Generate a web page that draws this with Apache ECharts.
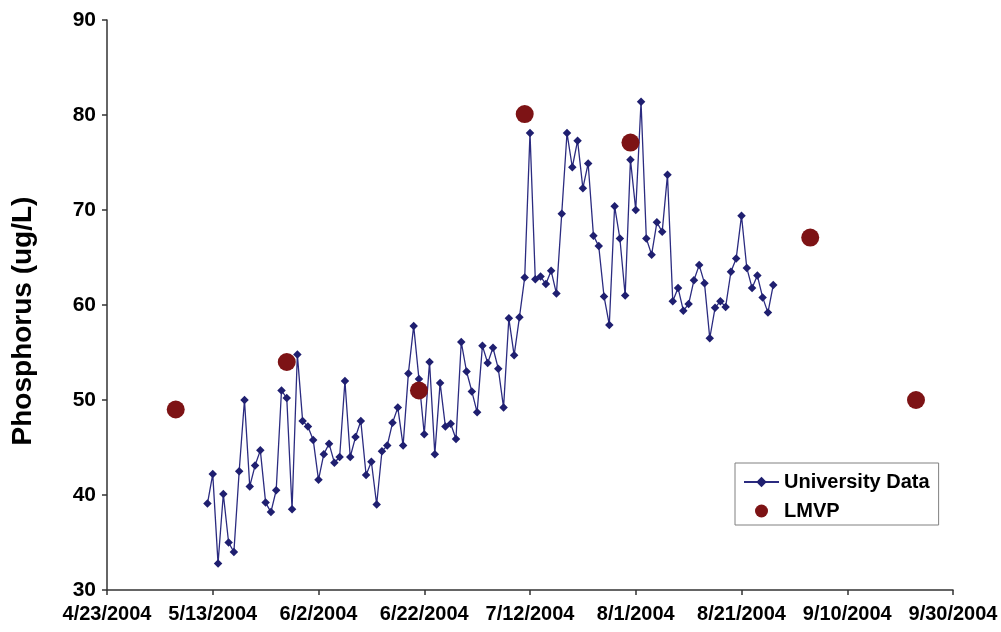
<!DOCTYPE html>
<html>
<head>
<meta charset="utf-8">
<script src="https://cdn.jsdelivr.net/npm/echarts@6/dist/echarts.min.js"></script>
<style>
html,body{margin:0;padding:0;background:#fff;}
#chart{width:1001px;height:632px;}
</style>
</head>
<body>
<div id="chart"></div>
<script>
// ---- Data ----
var universityDates = [
  '5/12/2004','5/13/2004','5/14/2004','5/15/2004','5/16/2004','5/17/2004','5/18/2004','5/19/2004','5/20/2004','5/21/2004',
  '5/22/2004','5/23/2004','5/24/2004','5/25/2004','5/26/2004','5/27/2004','5/28/2004','5/29/2004','5/30/2004','5/31/2004',
  '6/1/2004','6/2/2004','6/3/2004','6/4/2004','6/5/2004','6/6/2004','6/7/2004','6/8/2004','6/9/2004','6/10/2004',
  '6/11/2004','6/12/2004','6/13/2004','6/14/2004','6/15/2004','6/16/2004','6/17/2004','6/18/2004','6/19/2004','6/20/2004',
  '6/21/2004','6/22/2004','6/23/2004','6/24/2004','6/25/2004','6/26/2004','6/27/2004','6/28/2004','6/29/2004','6/30/2004',
  '7/1/2004','7/2/2004','7/3/2004','7/4/2004','7/5/2004','7/6/2004','7/7/2004','7/8/2004','7/9/2004','7/10/2004',
  '7/11/2004','7/12/2004','7/13/2004','7/14/2004','7/15/2004','7/16/2004','7/17/2004','7/18/2004','7/19/2004','7/20/2004',
  '7/21/2004','7/22/2004','7/23/2004','7/24/2004','7/25/2004','7/26/2004','7/27/2004','7/28/2004','7/29/2004','7/30/2004',
  '7/31/2004','8/1/2004','8/2/2004','8/3/2004','8/4/2004','8/5/2004','8/6/2004','8/7/2004','8/8/2004','8/9/2004',
  '8/10/2004','8/11/2004','8/12/2004','8/13/2004','8/14/2004','8/15/2004','8/16/2004','8/17/2004','8/18/2004','8/19/2004',
  '8/20/2004','8/21/2004','8/22/2004','8/23/2004','8/24/2004','8/25/2004','8/26/2004','8/27/2004'
];
var universityValues = [
  39.1,42.2,32.8,40.1,35.0,34.0,42.5,50.0,40.9,43.1,
  44.7,39.2,38.2,40.5,51.0,50.2,38.5,54.8,47.8,47.2,
  45.8,41.6,44.3,45.4,43.4,44.0,52.0,44.0,46.1,47.8,
  42.1,43.5,39.0,44.6,45.2,47.6,49.2,45.2,52.8,57.8,
  52.2,46.4,54.0,44.3,51.8,47.2,47.5,45.9,56.1,53.0,
  50.9,48.7,55.7,53.9,55.5,53.3,49.2,58.6,54.7,58.7,
  62.9,78.1,62.7,63.0,62.2,63.6,61.2,69.6,78.1,74.5,
  77.3,72.3,74.9,67.3,66.2,60.9,57.9,70.4,67.0,61.0,
  75.3,70.0,81.4,67.0,65.3,68.7,67.7,73.7,60.4,61.8,
  59.4,60.1,62.6,64.2,62.3,56.5,59.7,60.4,59.8,63.5,
  64.9,69.4,63.9,61.8,63.1,60.8,59.2,62.1
];
var lmvpDates  = ['5/6/2004','5/27/2004','6/21/2004','7/11/2004','7/31/2004','9/3/2004','9/23/2004'];
var lmvpValues = [49.0, 54.0, 51.0, 80.1, 77.1, 67.1, 50.0];

var xMinDate = '4/23/2004';
var xMaxDate = '9/30/2004';
var xStepDays = 20;
var yMin = 30, yMax = 90, yStep = 10;

// ---- helpers: Excel-style day serials ----
var EPOCH = Date.UTC(1899, 11, 30);
function toSerial(s) {
  var p = s.split('/');
  return Math.round((Date.UTC(+p[2], +p[0] - 1, +p[1]) - EPOCH) / 86400000);
}
function fromSerial(n) {
  var d = new Date(EPOCH + n * 86400000);
  return (d.getUTCMonth() + 1) + '/' + d.getUTCDate() + '/' + d.getUTCFullYear();
}
function pairs(dates, vals) {
  return dates.map(function (d, i) { return [toSerial(d), vals[i]]; });
}

var FONT = '"Liberation Sans", Arial, sans-serif';
var chart = echarts.init(document.getElementById('chart'), null, {renderer: 'canvas'});
chart.setOption({
  animation: false,
  backgroundColor: '#ffffff',
  grid: {left: 107, right: 48, top: 20, bottom: 42, containLabel: false},
  xAxis: {
    type: 'value',
    min: toSerial(xMinDate),
    max: toSerial(xMaxDate),
    interval: xStepDays,
    splitLine: {show: false},
    axisLine: {show: true, onZero: false, lineStyle: {color: '#333', width: 1.5}},
    axisTick: {show: true, inside: false, length: 5, lineStyle: {color: '#333', width: 1.5}},
    axisLabel: {
      margin: 14,
      color: '#000',
      fontFamily: FONT,
      fontWeight: 'bold',
      fontSize: 20,
      formatter: function (v) { return fromSerial(v); }
    }
  },
  yAxis: {
    type: 'value',
    min: yMin, max: yMax, interval: yStep,
    splitLine: {show: false},
    axisLine: {show: true, onZero: false, lineStyle: {color: '#333', width: 1.5}},
    axisTick: {show: true, inside: false, length: 5, lineStyle: {color: '#333', width: 1.5}},
    axisLabel: {margin: 11, color: '#000', fontFamily: FONT, fontWeight: 'bold', fontSize: 21}
  },
  legend: {
    orient: 'vertical',
    left: 735, top: 463,
    padding: [9, 9, 4, 8],
    itemWidth: 35, itemHeight: 13, itemGap: 9,
    backgroundColor: '#fff',
    borderColor: '#808080', borderWidth: 1,
    textStyle: {fontFamily: FONT, fontWeight: 'bold', fontSize: 20, color: '#000'},
    data: ['University Data', 'LMVP']
  },
  graphic: [{
    type: 'text',
    x: 23, y: 321,
    rotation: Math.PI / 2,
    style: {
      text: 'Phosphorus (ug/L)',
      fill: '#000',
      font: 'bold 28px "Liberation Sans", Arial, sans-serif',
      textAlign: 'center',
      textVerticalAlign: 'middle'
    }
  }],
  series: [{
    name: 'University Data',
    type: 'line',
    data: pairs(universityDates, universityValues),
    symbol: 'diamond',
    symbolSize: 8.5,
    showAllSymbol: true,
    lineStyle: {color: '#2b2b80', width: 1.3},
    itemStyle: {color: '#1f1f70', opacity: 1},
    z: 2
  }, {
    name: 'LMVP',
    type: 'scatter',
    data: pairs(lmvpDates, lmvpValues),
    symbol: 'circle',
    symbolSize: 18,
    itemStyle: {color: '#7d1315', opacity: 1},
    z: 3
  }]
});
</script>
</body>
</html>
